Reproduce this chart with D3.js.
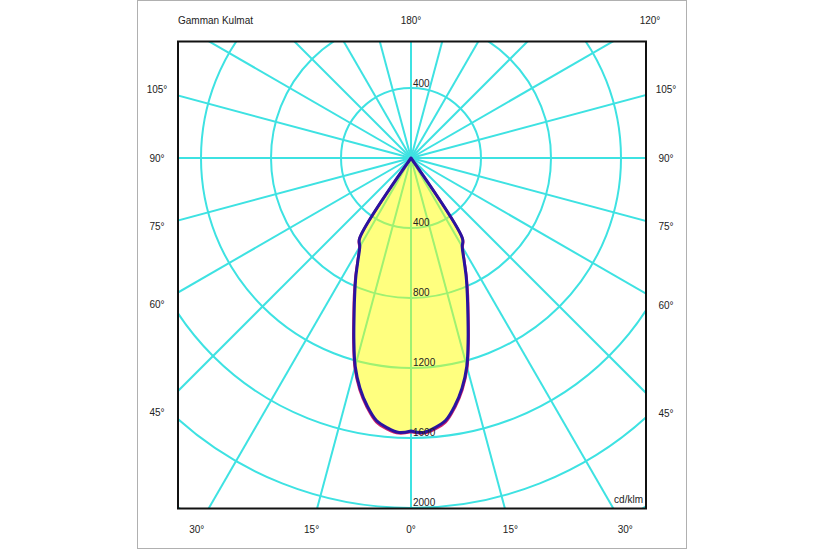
<!DOCTYPE html>
<html>
<head>
<meta charset="utf-8">
<script src="https://cdn.jsdelivr.net/npm/d3@7"></script>
<style>
  html, body { margin: 0; padding: 0; background: #fff; }
  svg { display: block; font-family: "Liberation Sans", Arial, sans-serif; }
</style>
</head>
<body>
<svg id="chart" width="825" height="550"></svg>
<script>
// ---- data ----
const gammaAngles = [0, 2.5, 5, 7.5, 10, 12.5, 15, 17.5, 20, 22.5, 25, 27.5, 30, 32.5, 35, 37.5, 40, 45, 50, 55, 60, 65, 70, 75, 80, 85, 90];
const planeC0 = [1566, 1575, 1556, 1522, 1448, 1357, 1242, 1096, 960, 850, 752, 660, 590, 552, 6, 0, 0, 0, 0, 0, 0, 0, 0, 0, 0, 0, 0];
const planeC90 = [1560, 1570, 1548, 1513, 1439, 1347, 1232, 1085, 950, 840, 745, 655, 585, 548, 6, 0, 0, 0, 0, 0, 0, 0, 0, 0, 0, 0, 0];
const radialTicks = [400, 800, 1200, 1600, 2000];
const gridCircles = [400, 800, 1200, 1600, 2000, 2400, 2800];
const gridAngles = d3.range(-165, 181, 15);
const angleLabels = [180, 120, 105, 90, 75, 60, 45, 30, 15, 0, -15, -30, -45, -60, -75, -90, -105];
const topLabels = [400];
const title = "Gamman Kulmat";
const unitLabel = "cd/klm";

// ---- layout ----
const svg = d3.select("#chart");
const frame = { x: 178, y: 41.5, w: 468, h: 467 };
const cx = 411, cy = 158;
const labelBox = { left: 157, right: 666, top: 20, bottom: 529 };

const rScale = d3.scaleLinear().domain([0, 400]).range([0, 70]);
// signed gamma (deg, + = right half, 0 = down) -> lineRadial angle
const aScale = d3.scaleLinear().domain([-180, 180]).range([2 * Math.PI, 0]);

// outer gray border
svg.append("rect").attr("x", 137.5).attr("y", 0.5).attr("width", 549).attr("height", 548)
  .attr("fill", "#fff").attr("stroke", "#b0b0b0").attr("stroke-width", 1);

svg.append("defs").append("clipPath").attr("id", "clip")
  .append("rect").attr("x", frame.x).attr("y", frame.y).attr("width", frame.w).attr("height", frame.h);

const plot = svg.append("g").attr("clip-path", "url(#clip)");
const g = plot.append("g").attr("transform", `translate(${cx},${cy})`);

// grid circles
g.selectAll("circle.grid").data(gridCircles).join("circle")
  .attr("class", "grid").attr("r", d => rScale(d))
  .attr("fill", "none").attr("stroke", "#3ee2e2").attr("stroke-width", 2);

// radial lines
const radial = d3.lineRadial().angle(d => d[0]).radius(d => d[1]);
g.selectAll("path.spoke").data(gridAngles).join("path")
  .attr("class", "spoke")
  .attr("d", a => radial([[aScale(a), 0], [aScale(a), rScale(4000)]]))
  .attr("fill", "none").attr("stroke", "#3ee2e2").attr("stroke-width", 2);

// curves
function loop(values) {
  const right = gammaAngles.map((gm, i) => [aScale(gm), rScale(values[i])]);
  const left = gammaAngles.map((gm, i) => [aScale(-gm), rScale(values[i])]).reverse();
  return right.concat(left);
}
const curve = d3.lineRadial().angle(d => d[0]).radius(d => d[1]).curve(d3.curveCatmullRomClosed.alpha(0.5));

g.append("path").attr("d", curve(loop(planeC0)))
  .attr("fill", "#ffff00").attr("fill-opacity", 0.5).attr("stroke", "none");
g.append("path").attr("d", curve(loop(planeC0)))
  .attr("fill", "none").attr("stroke", "#d0206a").attr("stroke-width", 2.5).attr("stroke-linejoin", "round");
g.append("path").attr("d", curve(loop(planeC90)))
  .attr("fill", "none").attr("stroke", "#2a14a0").attr("stroke-width", 3).attr("stroke-linejoin", "round");

// radial value labels
const txt = (sel) => sel.attr("font-size", 10).attr("fill", "#222");
g.selectAll("text.rv").data(radialTicks).join("text")
  .attr("class", "rv").attr("x", 2).attr("y", d => rScale(d) - 2)
  .text(d => d).call(txt);
g.selectAll("text.rt").data(topLabels).join("text")
  .attr("class", "rt").attr("x", 2).attr("y", d => -rScale(d) - 1)
  .text(d => d).call(txt);

// frame
svg.append("rect").attr("x", frame.x).attr("y", frame.y).attr("width", frame.w).attr("height", frame.h)
  .attr("fill", "none").attr("stroke", "#111").attr("stroke-width", 2);

// angle labels
function labelPos(a) {
  const r = a * Math.PI / 180;
  const dx = Math.sin(r), dy = Math.cos(r);
  const ts = [];
  if (dx > 1e-9) ts.push((labelBox.right - cx) / dx);
  if (dx < -1e-9) ts.push((labelBox.left - cx) / dx);
  if (dy > 1e-9) ts.push((labelBox.bottom - cy) / dy);
  if (dy < -1e-9) ts.push((labelBox.top - cy) / dy);
  const t = d3.min(ts);
  return [cx + t * dx, cy + t * dy];
}
svg.selectAll("text.al").data(angleLabels).join("text")
  .attr("class", "al")
  .attr("x", d => labelPos(d)[0]).attr("y", d => labelPos(d)[1])
  .attr("text-anchor", "middle").attr("dominant-baseline", "central")
  .text(d => Math.abs(d) + "°").call(txt);

svg.append("text").attr("x", frame.x).attr("y", labelBox.top)
  .attr("dominant-baseline", "central").text(title).call(txt);

svg.append("text").attr("x", frame.x + frame.w - 3).attr("y", frame.y + frame.h - 6)
  .attr("text-anchor", "end").text(unitLabel).call(txt);
</script>
</body>
</html>
